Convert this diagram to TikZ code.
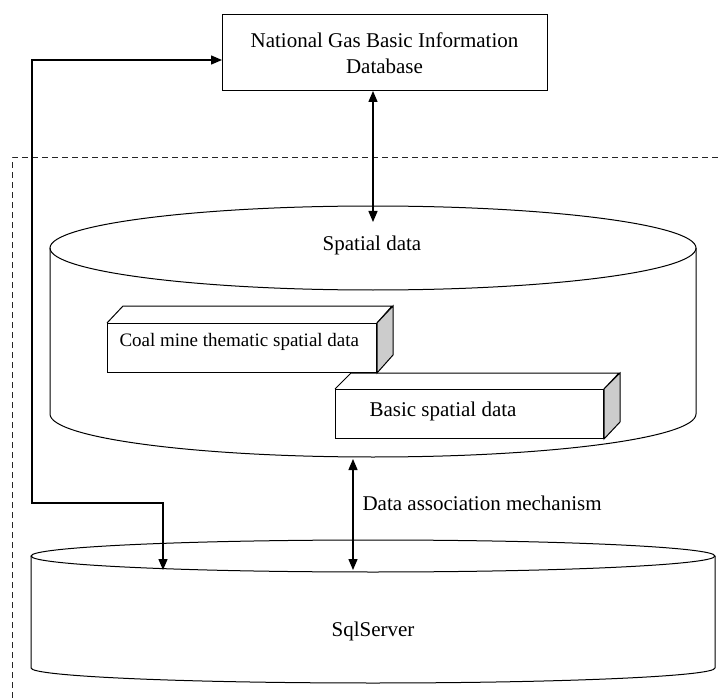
\documentclass[tikz,border=0pt]{standalone}
\usepackage{fontspec}
\setmainfont{Liberation Serif}
\usetikzlibrary{arrows.meta}
\begin{document}
\begin{tikzpicture}[x=1pt,y=-1pt,
  shape line/.style={line width=1pt, draw=black},
  conn/.style={line width=1.3pt, {Triangle[length=11pt,width=9pt]}-{Triangle[length=11pt,width=9pt]}},
  frontface/.style={shape line, fill=white, minimum width=269pt, minimum height=49pt, anchor=north west, inner sep=0pt},
  sideface/.style={shape line, fill=gray!40},
  bigtext/.style={font=\fontsize{21}{26}\selectfont},
  smalltext/.style={font=\fontsize{19}{23}\selectfont}]
\useasboundingbox (0,0) rectangle (721,698);
% dashed boundary
\draw[line width=1pt, draw=black!85, dash pattern=on 6pt off 4pt] (12,698) -- (12,158) -- (721,158);
% top database box
\node[shape line, minimum width=325pt, minimum height=76pt, align=center, bigtext, inner sep=0pt] (db) at (384.5,53) {National Gas Basic Information\\Database};
% spatial data cylinder
\draw[shape line] (373,248) ellipse [x radius=323pt, y radius=42pt];
\draw[shape line] (50,248) -- (50,414) arc[start angle=180, end angle=360, x radius=323pt, y radius=43pt] -- (696,248);
\node[bigtext] (sptext) at (372,245) {Spatial data};
% coal mine box
\node[frontface, smalltext] (coal) at (107,323) {};
\node[smalltext, anchor=west] (coaltext) at (116,342) {Coal mine thematic spatial data};
\draw[shape line] (coal.north west) -- ++(16,-17) -- ++(269,0) -- (coal.north east);
\filldraw[sideface] (coal.north east) -- ++(16,-17) -- ++(0,49) -- (coal.south east) -- cycle;
% basic spatial box
\node[frontface, minimum width=268pt] (basic) at (335,389) {};
\node[bigtext, anchor=west] (basictext) at (366,411) {Basic spatial data};
\draw[shape line] (basic.north west) -- ++(16,-16) -- ++(268,0) -- (basic.north east);
\filldraw[sideface] (basic.north east) -- ++(16,-16) -- ++(0,49) -- (basic.south east) -- cycle;
% SqlServer cylinder
\draw[shape line] (373,556) ellipse [x radius=342pt, y radius=16pt];
\draw[shape line] (31,556) -- (31,668) arc[start angle=180, end angle=360, x radius=342pt, y radius=15pt] -- (715,556);
\node[bigtext] (sqltext) at (373,631) {SqlServer};
% connector end points
\coordinate (dbin) at (222,60);
\coordinate (dbout) at (373,91);
\coordinate (spin) at (373,222);
\coordinate (spout) at (353,459);
\coordinate (sqlin1) at (163,570);
\coordinate (sqlin2) at (353,570);
% connectors
\draw[conn] (dbout) -- (spin);
\draw[conn] (dbin) -| (32,503) -| (sqlin1);
\draw[conn] (spout) -- (sqlin2);
\node[bigtext, anchor=west] (assoc) at (359,503) {Data association mechanism};
\end{tikzpicture}
\end{document}
